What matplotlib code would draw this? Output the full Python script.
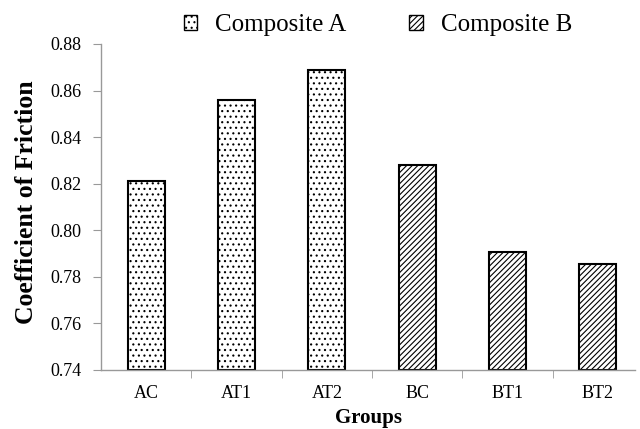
import matplotlib.pyplot as plt
from matplotlib.patches import Patch
import numpy as np

plt.rcParams['font.family'] = ['Liberation Serif', 'DejaVu Serif']
plt.rcParams['hatch.linewidth'] = 0.8

groups = ['AC', 'AT1', 'AT2', 'BC', 'BT1', 'BT2']
friction = [0.821, 0.856, 0.869, 0.828, 0.7905, 0.7855]
composite = ['A', 'A', 'A', 'B', 'B', 'B']

hatch_of = {'A': '...', 'B': '//////'}

fig = plt.figure(figsize=(6.4, 4.29), dpi=100)
ax = fig.add_axes([101/640, 59/429, 534/640, 326/429])

x = np.arange(len(groups))
base = 0.74
for xi, val, comp in zip(x, friction, composite):
    ax.bar(xi, val - base, bottom=base, width=0.41, color='white',
           edgecolor='black', linewidth=1.5, hatch=hatch_of[comp])

ax.set_ylim(0.74, 0.88)
ax.set_xlim(-0.5, 5.41)
ax.set_yticks(np.arange(0.74, 0.8801, 0.02))
ax.set_yticklabels(['%.2f' % v for v in np.arange(0.74, 0.8801, 0.02)])
ax.set_xticks(x)
ax.set_xticklabels(groups)
ax.set_xticks(np.arange(0.5, 5.5, 1.0), minor=True)
ax.tick_params(axis='x', which='major', length=0, labelsize=13, pad=11)
ax.tick_params(axis='x', which='minor', length=6, color='#999999')
ax.tick_params(axis='y', length=6, color='#999999', labelsize=13, pad=8)

for s in ['top', 'right']:
    ax.spines[s].set_visible(False)
for s in ['left', 'bottom']:
    ax.spines[s].set_color('#999999')
    ax.spines[s].set_linewidth(1.0)

ax.set_ylabel('Coefficient of Friction', fontsize=18.5, fontweight='bold')
ax.yaxis.set_label_coords(-0.118, 0.515)
ax.set_xlabel('Groups', fontsize=15, fontweight='bold', labelpad=4)

handles = [Patch(facecolor='white', edgecolor='black', hatch='...', label='Composite A'),
           Patch(facecolor='white', edgecolor='black', hatch='//////', label='Composite B')]
fig.legend(handles=handles, loc='upper center', bbox_to_anchor=(378/640, 1.02),
           ncol=2, frameon=False, fontsize=18, handlelength=0.55, handleheight=0.55,
           columnspacing=2.5, handletextpad=0.72)

fig.savefig('out.png', dpi=100)
